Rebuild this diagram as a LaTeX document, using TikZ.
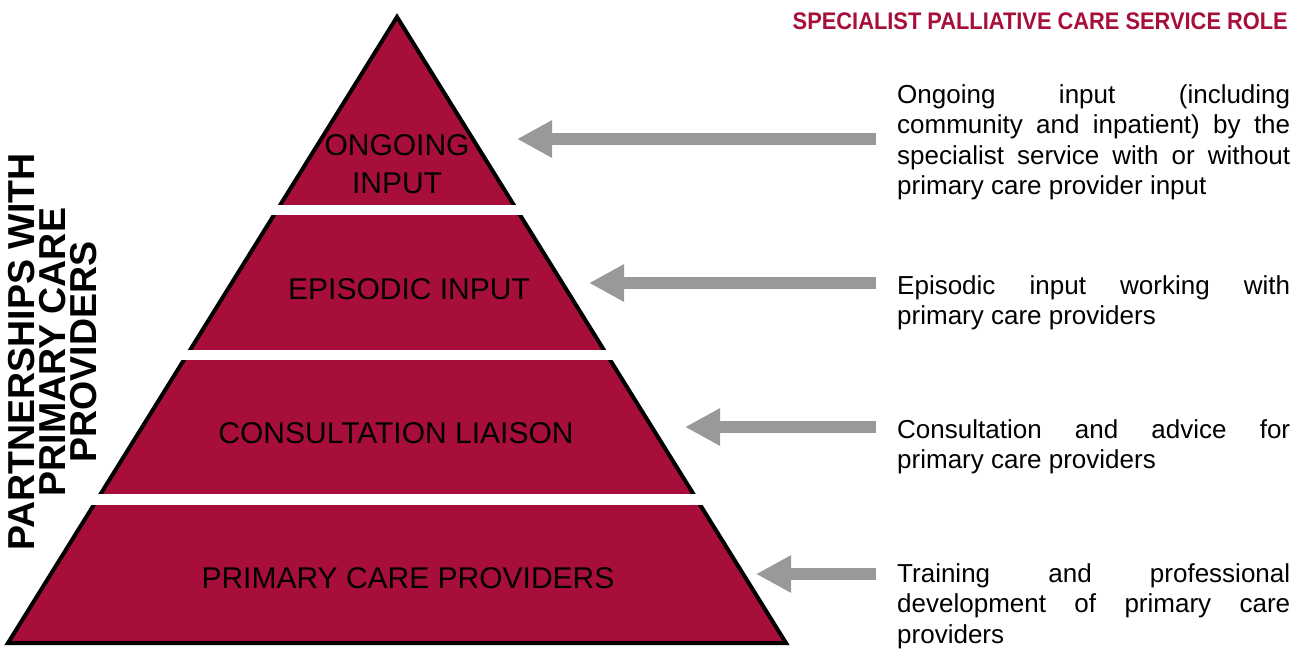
\documentclass[tikz,border=0pt]{standalone}
\usepackage{fontspec}
\setmainfont{Liberation Sans}
\newfontfamily\titlefont[FakeStretch=0.91]{Liberation Sans}
\usetikzlibrary{arrows.meta}
\definecolor{pcred}{RGB}{168,14,58}
\definecolor{pcgrey}{RGB}{153,153,153}
\tikzset{
  level/.style={font=\fontsize{30}{38}\selectfont, align=center, inner sep=0},
  role/.style={font=\fontsize{26}{30.5}\selectfont, text width=393pt, align=justify, inner sep=0, anchor=north west},
  rolearrow/.style={draw=pcgrey, line width=12pt, shorten <=21pt, -{Triangle[width=35pt,length=35pt]}}
}
\begin{document}
\begin{tikzpicture}[x=1pt,y=-1pt]
    \useasboundingbox (0,0) rectangle (1303,648);
    \coordinate (apex) at (397,17);
    \coordinate (bl) at (8,643);
    \coordinate (br) at (786,643);
    \filldraw [fill=pcred, draw=black, line width=4pt] (apex) -- (bl) -- (br) -- cycle;
    \fill [white] (270,205) rectangle (524,215);
    \fill [white] (180,350) rectangle (614,360);
    \fill [white] (90,494) rectangle (704,505);
    \node [level] (ongoing) at (397,164) {ONGOING\\INPUT};
    \node [level] (episodic) at (409,289) {EPISODIC INPUT};
    \node [level] (consult) at (396,433) {CONSULTATION LIAISON};
    \node [level] (primary) at (408,578) {PRIMARY CARE PROVIDERS};
    \node [rotate=90, inner sep=0, align=center, font=\bfseries\fontsize{37.5}{31}\selectfont] (partner) at (53,352) {PARTNERSHIPS WITH\\PRIMARY CARE\\PROVIDERS};
    \node [anchor=base east, inner sep=0, text=pcred, font=\titlefont\bfseries\fontsize{24}{28}\selectfont] (title) at (1288,29) {SPECIALIST PALLIATIVE CARE SERVICE ROLE};
    \node [role] (r1) at (897,84) {Ongoing input (including\linebreak community and inpatient) by the\linebreak specialist service with or without\linebreak primary care provider input};
    \node [role] (r2) at (897,275) {Episodic input working with\linebreak primary care providers};
    \node [role] (r3) at (897,419) {Consultation and advice for\linebreak primary care providers};
    \node [role] (r4) at (897,563) {Training and professional\linebreak development of primary care\linebreak providers};
    \coordinate (tip1) at (517,139);
    \coordinate (tip2) at (589,283);
    \coordinate (tip3) at (685,427);
    \coordinate (tip4) at (756,574);
    \draw [rolearrow] (r1.west |- tip1) -- (tip1);
    \draw [rolearrow] (r2.west |- tip2) -- (tip2);
    \draw [rolearrow] (r3.west |- tip3) -- (tip3);
    \draw [rolearrow] (r4.west |- tip4) -- (tip4);
\end{tikzpicture}
\end{document}
